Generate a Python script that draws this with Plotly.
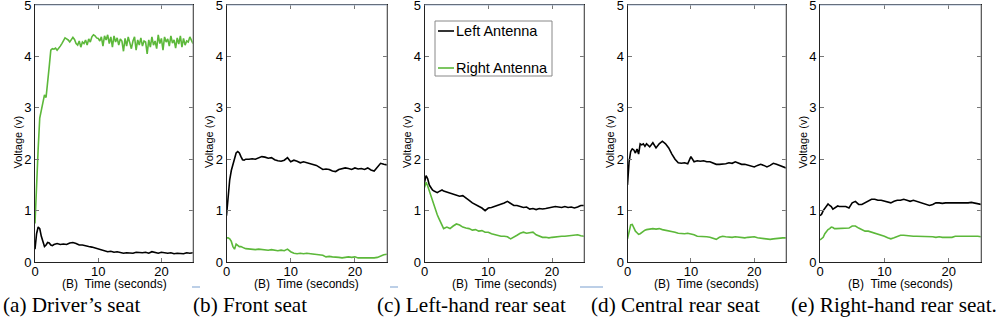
import plotly.graph_objects as go

# ---------------- data ----------------
T = [0, 0.25, 0.5, 0.75, 1, 1.25, 1.5, 1.75, 2, 2.25, 2.5, 2.75, 3] + [3.5 + 0.5 * i for i in range(44)]
T_FINE = [0.25 * i for i in range(101)]

a_left = [0.25, 0.55, 0.68, 0.65, 0.5, 0.38, 0.3, 0.33, 0.38, 0.37, 0.33, 0.32, 0.34,
          0.36, 0.34, 0.35, 0.34, 0.37, 0.38, 0.36, 0.33, 0.33, 0.31,
          0.3, 0.29, 0.27, 0.26, 0.23, 0.21, 0.2, 0.21, 0.19, 0.2,
          0.19, 0.17, 0.18, 0.18, 0.17, 0.19, 0.18, 0.18, 0.19, 0.17,
          0.2, 0.18, 0.17, 0.19, 0.18, 0.17, 0.18, 0.16, 0.17, 0.17,
          0.16, 0.18, 0.17, 0.18]
a_right = [0.75, 1.6, 2.2, 2.8, 2.95, 3.05, 3.25, 3.2, 3.45, 3.8, 4.12, 4.15, 4.14, 4.16, 4.12, 4.15,
           4.2, 4.25, 4.3, 4.36, 4.34, 4.32, 4.28, 4.34, 4.37, 4.33, 4.25, 4.22, 4.3, 4.18, 4.28, 4.25,
           4.32, 4.22, 4.34, 4.28, 4.38, 4.42, 4.4, 4.36, 4.35, 4.3, 4.38, 4.2, 4.4, 4.32, 4.42, 4.25,
           4.38, 4.18, 4.4, 4.28, 4.36, 4.22, 4.34, 4.3, 4.1, 4.35, 4.2, 4.38, 4.26, 4.15, 4.3, 4.38,
           4.12, 4.32, 4.22, 4.36, 4.2, 4.3, 4.28, 4.05, 4.32, 4.18, 4.38, 4.22, 4.3, 4.15, 4.42, 4.25,
           4.35, 4.12, 4.38, 4.28, 4.34, 4.2, 4.4, 4.26, 4.32, 4.16, 4.36, 4.24, 4.4, 4.18, 4.35, 4.22,
           4.3, 4.28, 4.38, 4.3, 4.25]

b_left = [0.9, 1.35, 1.6, 1.78, 1.9, 2.0, 2.12, 2.15, 2.12, 2.05, 1.99, 1.98, 2.0,
          2.0, 2.01, 2.0, 2.02, 2.05, 2.04, 2.02, 2.03, 1.99, 1.97,
          1.96, 1.98, 2.03, 1.95, 1.98, 1.96, 1.93, 1.95, 1.93, 1.92,
          1.9, 1.88, 1.84, 1.8, 1.81, 1.8, 1.77, 1.76, 1.8, 1.81,
          1.83, 1.82, 1.8, 1.83, 1.81, 1.82, 1.8, 1.83, 1.79, 1.77,
          1.85, 1.92, 1.9, 1.89]
b_right = [0.47, 0.47, 0.45, 0.4, 0.3, 0.25, 0.35, 0.33, 0.3, 0.3, 0.28, 0.27, 0.26,
           0.25, 0.25, 0.24, 0.25, 0.24, 0.24, 0.23, 0.24, 0.23, 0.22,
           0.23, 0.22, 0.25, 0.2, 0.17, 0.16, 0.17, 0.16, 0.17, 0.16,
           0.15, 0.14, 0.14, 0.13, 0.1, 0.11, 0.1, 0.1, 0.09, 0.08,
           0.09, 0.1, 0.09, 0.1, 0.08, 0.08, 0.07, 0.07, 0.08, 0.08,
           0.09, 0.12, 0.14, 0.15]

c_left = [1.55, 1.68, 1.62, 1.5, 1.45, 1.4, 1.38, 1.36, 1.35, 1.37, 1.38, 1.4, 1.38,
          1.36, 1.34, 1.32, 1.3, 1.28, 1.29, 1.25, 1.2, 1.15, 1.12,
          1.08, 1.05, 1.0, 1.05, 1.06, 1.08, 1.1, 1.12, 1.15, 1.18,
          1.14, 1.1, 1.1, 1.08, 1.06, 1.07, 1.03, 1.04, 1.02, 1.04,
          1.03, 1.04, 1.05, 1.06, 1.08, 1.07, 1.06, 1.08, 1.06, 1.07,
          1.05, 1.07, 1.1, 1.1]
c_right = [1.45, 1.55, 1.48, 1.38, 1.3, 1.2, 1.1, 1.0, 0.92, 0.85, 0.78, 0.7, 0.65,
           0.68, 0.65, 0.7, 0.74, 0.72, 0.68, 0.66, 0.65, 0.62, 0.63,
           0.6, 0.61, 0.58, 0.58, 0.55, 0.53, 0.52, 0.5, 0.5, 0.49,
           0.45, 0.48, 0.52, 0.56, 0.58, 0.56, 0.57, 0.58, 0.53, 0.5,
           0.48, 0.48, 0.47, 0.48, 0.49, 0.5, 0.5, 0.5, 0.51, 0.52,
           0.52, 0.53, 0.51, 0.5]

d_left = [1.5, 1.95, 2.15, 2.2, 2.18, 2.12, 2.2, 2.1, 2.3, 2.28, 2.3, 2.25, 2.3,
          2.24, 2.32, 2.22, 2.3, 2.35, 2.3, 2.22, 2.1, 2.0, 1.93,
          1.92, 1.93, 1.91, 2.05, 1.95, 1.97, 1.96, 1.97, 1.95, 1.95,
          1.93, 1.9, 1.9, 1.9, 1.91, 1.93, 1.92, 1.95, 1.92, 1.9,
          1.9, 1.88, 1.87, 1.85, 1.88, 1.9, 1.88, 1.85, 1.88, 1.92,
          1.9, 1.88, 1.86, 1.83]
d_right = [0.45, 0.6, 0.72, 0.73, 0.65, 0.6, 0.57, 0.54, 0.55, 0.58, 0.6, 0.62, 0.63,
           0.64, 0.65, 0.64, 0.65, 0.63, 0.62, 0.6, 0.6, 0.58, 0.56,
           0.55, 0.55, 0.56, 0.55, 0.53, 0.5, 0.5, 0.5, 0.49, 0.48,
           0.46, 0.44, 0.48, 0.5, 0.49, 0.48, 0.48, 0.49, 0.48, 0.47,
           0.47, 0.48, 0.48, 0.49, 0.47, 0.46, 0.45, 0.44, 0.44, 0.45,
           0.46, 0.47, 0.47, 0.47]

e_left = [0.9, 0.93, 1.0, 1.05, 1.1, 1.13, 1.1, 1.08, 1.03, 1.05, 1.08, 1.09, 1.08,
          1.08, 1.08, 1.05, 1.15, 1.18, 1.12, 1.12, 1.15, 1.18, 1.22,
          1.22, 1.2, 1.2, 1.18, 1.16, 1.15, 1.18, 1.2, 1.2, 1.22,
          1.2, 1.18, 1.2, 1.18, 1.15, 1.13, 1.12, 1.1, 1.12, 1.15,
          1.15, 1.14, 1.15, 1.15, 1.14, 1.15, 1.15, 1.14, 1.15, 1.15,
          1.16, 1.15, 1.13, 1.12]
e_right = [0.43, 0.45, 0.48, 0.55, 0.6, 0.63, 0.65, 0.68, 0.67, 0.65, 0.65, 0.65, 0.65,
           0.65, 0.65, 0.66, 0.7, 0.7, 0.66, 0.63, 0.6, 0.6, 0.58,
           0.57, 0.55, 0.52, 0.5, 0.47, 0.45, 0.47, 0.5, 0.52, 0.52,
           0.51, 0.5, 0.5, 0.5, 0.5, 0.49, 0.5, 0.5, 0.49, 0.48,
           0.49, 0.48, 0.48, 0.47, 0.48, 0.5, 0.5, 0.51, 0.5, 0.5,
           0.51, 0.5, 0.5, 0.49]

captions = ["(a) Driver\u2019s seat", "(b) Front seat", "(c) Left-hand rear seat",
            "(d) Central rear seat", "(e) Right-hand rear seat."]
series_names = ["Left Antenna", "Right Antenna"]
x_ticks = [0, 10, 20]
y_ticks = [0, 1, 2, 3, 4, 5]

panels = [
    (T, a_left, T_FINE, a_right),
    (T, b_left, T, b_right),
    (T, c_left, T, c_right),
    (T, d_left, T, d_right),
    (T, e_left, T, e_right),
]

# ---------------- layout geometry (pixels) ----------------
W, H = 1000, 322
X_DOMAINS_PX = [(35, 193), (226.5, 387), (424.5, 584), (627.5, 786), (820, 981)]
CAPTION_X_PX = [1, 191, 375, 589, 789]
Y_TOP_PX, Y_BOT_PX = 5, 262
BLACK = "#000000"
GREEN = "#5cb83a"
SANS = "Liberation Sans, Arial, sans-serif"
SERIF = "Liberation Serif, Times New Roman, serif"


def px(x):
    return x / W


def py(y):
    return 1 - y / H


fig = go.Figure()
layout = dict(
    width=W, height=H, margin=dict(l=0, r=0, t=0, b=0, autoexpand=False),
    paper_bgcolor="white", plot_bgcolor="white", showlegend=False,
)
annotations = []
shapes = []

for i, (tl, yl, tr, yr) in enumerate(panels):
    k = "" if i == 0 else str(i + 1)
    xa, ya = "x" + k, "y" + k
    fig.add_trace(go.Scatter(x=tl, y=yl, mode="lines", name=series_names[0],
                             line=dict(color=BLACK, width=1.6), xaxis=xa, yaxis=ya))
    fig.add_trace(go.Scatter(x=tr, y=yr, mode="lines", name=series_names[1],
                             line=dict(color=GREEN, width=1.6), xaxis=xa, yaxis=ya))
    x0, x1 = X_DOMAINS_PX[i]
    layout["xaxis" + k] = dict(
        domain=[px(x0), px(x1)], range=[0, 25], anchor=ya, automargin=False,
        tickvals=x_ticks, ticks="inside", ticklen=4, tickcolor="#777",
        showline=True, linecolor="#222", linewidth=1, mirror="ticks",
        showgrid=False, zeroline=False, ticklabeloverflow="allow",
        ticklabelstandoff=-3,
        tickfont=dict(family=SANS, size=13, color="black"),
    )
    layout["yaxis" + k] = dict(
        domain=[py(Y_BOT_PX), py(Y_TOP_PX)], range=[0, 5.0001], anchor=xa, automargin=False,
        tickvals=y_ticks, ticks="inside", ticklen=4, tickcolor="#777",
        showline=True, linecolor="#222", linewidth=1, mirror="ticks",
        showgrid=False, zeroline=False, ticklabeloverflow="allow",
        tickfont=dict(family=SANS, size=13, color="black"),
    )
    # lighter top/right frame edges
    shapes.append(dict(type="line", xref=xa + " domain", yref=ya + " domain",
                       x0=0, x1=1, y0=1, y1=1, line=dict(color="#a9bbd6", width=1.2), layer="above"))
    shapes.append(dict(type="line", xref=xa + " domain", yref=ya + " domain",
                       x0=1, x1=1, y0=0, y1=1, line=dict(color="#9a9a9a", width=1), layer="above"))
    # axis titles
    annotations.append(dict(text="(B)  Time (seconds)", xref="paper", yref="paper",
                            x=px((x0 + x1) / 2), y=py(284), showarrow=False,
                            xanchor="center", yanchor="middle",
                            font=dict(family=SANS, size=12, color="black")))
    annotations.append(dict(text="Voltage (v)", xref="paper", yref="paper",
                            x=px(x0 - 17.5), y=py(142), showarrow=False, textangle=-90,
                            xanchor="center", yanchor="middle",
                            font=dict(family=SANS, size=11, color="black")))
    annotations.append(dict(text=captions[i], xref="paper", yref="paper",
                            x=px(CAPTION_X_PX[i]), y=py(305), showarrow=False,
                            xanchor="left", yanchor="middle",
                            font=dict(family=SERIF, size=21.2, color="black")))

# manual legend in panel (c)
shapes.append(dict(type="rect", xref="paper", yref="paper",
                   x0=px(435), x1=px(552), y0=py(76), y1=py(21),
                   line=dict(color="#888", width=1), fillcolor="white", layer="above"))
for yy, col, name in [(31, BLACK, series_names[0]), (68, GREEN, series_names[1])]:
    shapes.append(dict(type="line", xref="paper", yref="paper",
                       x0=px(438), x1=px(454), y0=py(yy), y1=py(yy),
                       line=dict(color=col, width=1.6), layer="above"))
    annotations.append(dict(text=name, xref="paper", yref="paper",
                            x=px(454), y=py(yy), showarrow=False,
                            xanchor="left", yanchor="middle",
                            font=dict(family=SANS, size=14.5, color="black")))

# small stray blue marks under the panels
for a, b in [(192, 200), (390, 398), (580, 603)]:
    shapes.append(dict(type="line", xref="paper", yref="paper",
                       x0=px(a), x1=px(b), y0=py(287), y1=py(287),
                       line=dict(color="#8fb0d8", width=1.2)))

layout["annotations"] = annotations
layout["shapes"] = shapes
fig.update_layout(**layout)
fig.write_html("out.html", config={"displayModeBar": False},
               post_script="document.body.style.margin='0';document.body.style.overflow='hidden';")
